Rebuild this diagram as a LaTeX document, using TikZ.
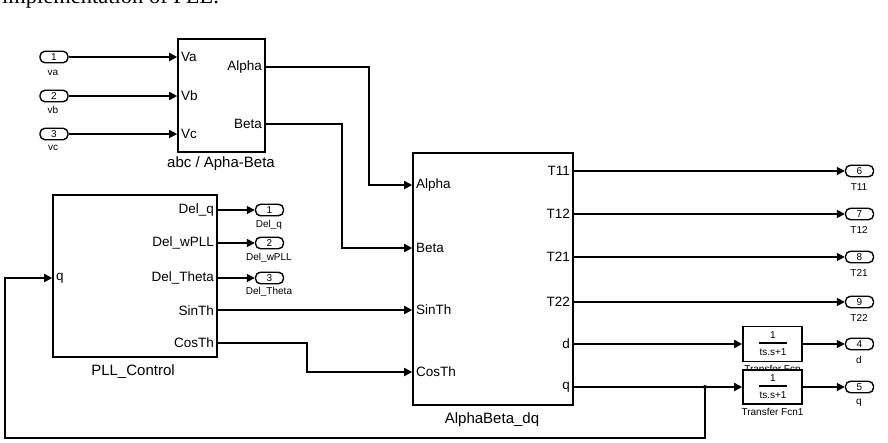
\documentclass[tikz,border=0pt]{standalone}
\usepackage{fontspec}
\setmainfont{Liberation Sans}
\newfontfamily\seriffont{Liberation Serif}
\usetikzlibrary{arrows.meta}
\begin{document}
\begin{tikzpicture}[x=1pt,y=-1pt,
  blk/.style={draw,line width=1.6pt,fill=white,inner sep=0pt},
  port/.style={draw,line width=1.4pt,rounded corners=5pt,minimum width=28pt,minimum height=11.5pt,inner sep=0pt,font=\fontsize{10}{10}\selectfont},
  plabel/.style={font=\fontsize{10}{10}\selectfont,inner sep=0pt},
  lbl/.style={font=\fontsize{13.5}{13.5}\selectfont,inner sep=0pt},
  ttl/.style={font=\fontsize{15}{15}\selectfont,inner sep=0pt},
  arr/.style={line width=1.7pt,-{Triangle[length=8pt,width=8pt]}}]
\useasboundingbox (0,0) rectangle (888,442);
% cropped caption text at the top
\node[anchor=base west,inner sep=0pt,font=\seriffont\fontsize{22.5}{22.5}\selectfont] (cap) at (2,3) {implementation of PLL.};

% blocks
\node[blk,minimum width=87pt,minimum height=113pt] (abc) at (221.5,95.5) {};
\node[blk,minimum width=164pt,minimum height=162pt] (pll) at (135,276) {};
\node[blk,minimum width=160pt,minimum height=252pt] (abdq) at (493,279) {};
\node[ttl] (tabc) at (221,164) {abc / Apha-Beta};
\node[ttl] (tpll) at (133,372) {PLL\_Control};
\node[ttl] (tabdq) at (492,420) {AlphaBeta\_dq};

% abc labels
\node[lbl,anchor=west] (lVa) at (181,57) {Va};
\node[lbl,anchor=west] (lVb) at (181,96) {Vb};
\node[lbl,anchor=west] (lVc) at (181,134) {Vc};
\node[lbl,anchor=east] (lAl) at (262,67) {Alpha};
\node[lbl,anchor=east] (lBe) at (262,124) {Beta};
% pll labels
\node[lbl,anchor=west] (lq) at (56,278) {q};
\node[lbl,anchor=east] (lDq) at (214,210) {Del\_q};
\node[lbl,anchor=east] (lDw) at (214,243) {Del\_wPLL};
\node[lbl,anchor=east] (lDt) at (214,278) {Del\_Theta};
\node[lbl,anchor=east] (lSi) at (214,311) {SinTh};
\node[lbl,anchor=east] (lCo) at (214,343) {CosTh};
% abdq labels
\node[lbl,anchor=west] (rAl) at (416,185) {Alpha};
\node[lbl,anchor=west] (rBe) at (416,248) {Beta};
\node[lbl,anchor=west] (rSi) at (416,310) {SinTh};
\node[lbl,anchor=west] (rCo) at (416,372) {CosTh};
\node[lbl,anchor=east] (rT11) at (570,171) {T11};
\node[lbl,anchor=east] (rT12) at (570,214) {T12};
\node[lbl,anchor=east] (rT21) at (570,257) {T21};
\node[lbl,anchor=east] (rT22) at (570,302) {T22};
\node[lbl,anchor=east] (rd) at (570,344) {d};
\node[lbl,anchor=east] (rq) at (570,387) {q};

% input ports
\node[port] (in1) at (54,57) {1};
\node[port] (in2) at (54,96) {2};
\node[port] (in3) at (54,134) {3};
\node[plabel] (tin1) at (53,73) {va};
\node[plabel] (tin2) at (53,110) {vb};
\node[plabel] (tin3) at (53,148) {vc};

% del ports
\node[port] (o1) at (269.5,210) {1};
\node[port] (o2) at (269.5,243) {2};
\node[port] (o3) at (269.5,278) {3};
\node[plabel] (to1) at (269,225) {Del\_q};
\node[plabel] (to2) at (269,258) {Del\_wPLL};
\node[plabel] (to3) at (269,292) {Del\_Theta};

% right output ports
\node[port] (o6) at (859.5,171) {6};
\node[port] (o7) at (859.5,214) {7};
\node[port] (o8) at (859.5,257) {8};
\node[port] (o9) at (859.5,302) {9};
\node[port] (o4) at (859.5,344) {4};
\node[port] (o5) at (859.5,387) {5};
\node[plabel] (to6) at (859,187) {T11};
\node[plabel] (to7) at (859,230) {T12};
\node[plabel] (to8) at (859,273) {T21};
\node[plabel] (to9) at (859,318) {T22};
\node[plabel] (to4) at (859,360) {d};
\node[plabel] (to5) at (859,403) {q};

% transfer functions
\node[blk,minimum width=59pt,minimum height=35pt] (tf1) at (772.5,344) {};
\node[plabel] (tf1l) at (772.5,369) {Transfer Fcn};
\node[blk,minimum width=59pt,minimum height=34pt] (tf2) at (772.5,387) {};
\node[plabel] (tf2l) at (772.5,412) {Transfer Fcn1};
\foreach \n/\y in {tf1/344,tf2/387}{
  \node[plabel] (\n num) at (773,\y-9) {1};
  \draw[line width=1.2pt] (759,\y-1) -- (787,\y-1);
  \node[plabel] (\n den) at (773,\y+8) {ts.s+1};
}

% wires: abc inputs
\draw[arr] (in1.east) -- (in1 -| abc.west);
\draw[arr] (in2.east) -- (in2 -| abc.west);
\draw[arr] (in3.east) -- (in3 -| abc.west);
% alpha / beta
\coordinate (aout) at (abc.east |- lAl);
\coordinate (bout) at (abc.east |- lBe);
\draw[arr] (aout) -- (369,67) -- (369,185) -- (abdq.west |- rAl);
\draw[arr] (bout) -- (342,124) -- (342,248) -- (abdq.west |- rBe);
% pll outputs
\draw[arr] (pll.east |- lDq) -- (o1.west);
\draw[arr] (pll.east |- lDw) -- (o2.west);
\draw[arr] (pll.east |- lDt) -- (o3.west);
\draw[arr] (pll.east |- rSi) -- (abdq.west |- rSi);
\draw[arr] (pll.east |- lCo) -- (307,343) -- (307,372) -- (abdq.west |- rCo);
% abdq outputs
\draw[arr] (abdq.east |- o6) -- (o6.west);
\draw[arr] (abdq.east |- o7) -- (o7.west);
\draw[arr] (abdq.east |- o8) -- (o8.west);
\draw[arr] (abdq.east |- o9) -- (o9.west);
\draw[arr] (abdq.east |- tf1) -- (tf1.west);
\draw[arr] (abdq.east |- tf2) -- (tf2.west);
\draw[arr] (tf1.east) -- (o4.west);
\draw[arr] (tf2.east) -- (o5.west);
% feedback
\coordinate (jq) at (705,387);
\fill (jq) circle (2pt);
\draw[arr] (jq) -- (705,438) -- (5,438) -- (5,278) -- (pll.west |- lq);
\end{tikzpicture}
\end{document}
